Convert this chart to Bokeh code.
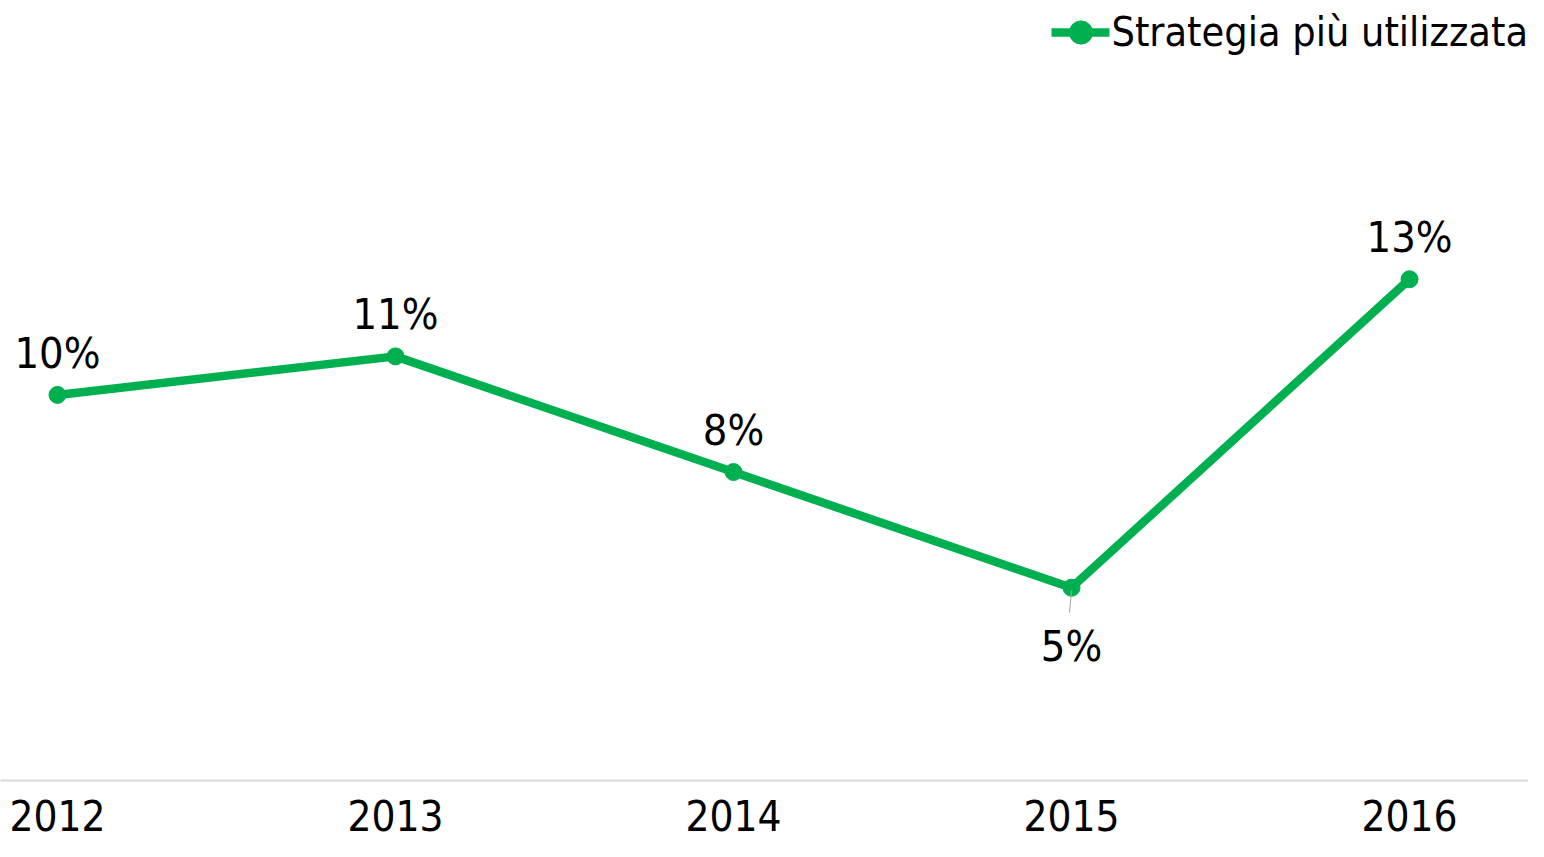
from bokeh.plotting import figure
from bokeh.models import ColumnDataSource, LabelSet, FixedTicker, Legend, LegendItem
from bokeh.core.properties import value
from bokeh.embed import file_html
from bokeh.resources import INLINE

years = [2012, 2013, 2014, 2015, 2016]
values = [10, 11, 8, 5, 13]
labels = ["10%", "11%", "8%", "5%", "13%"]
series_name = "Strategia più utilizzata"

FONT = "DejaVu Sans Condensed"
GREEN = "#00B050"

offsets = [-58 if v == min(values) else 42 for v in values]
src = ColumnDataSource(dict(x=years, y=values, lab=labels, off=offsets))

p = figure(frame_width=1528, frame_height=780, output_backend="svg", toolbar_location=None,
           x_range=(2011.8314, 2016.352), y_range=(0, 20.23),
           min_border=0, min_border_bottom=61, outline_line_color=None)
p.grid.visible = False
p.yaxis.visible = False

ax = p.xaxis[0]
ax.ticker = FixedTicker(ticks=years)
ax.major_label_overrides = {y: str(y) for y in years}
ax.axis_line_color = "#D9D9D9"
ax.axis_line_width = 2
ax.major_tick_line_color = None
ax.minor_tick_line_color = None
ax.major_tick_out = 0
ax.major_tick_in = 0
ax.major_label_standoff = 19
ax.major_label_text_font = FONT
ax.major_label_text_font_size = "42px"
ax.major_label_text_color = "#000000"

ln = p.line("x", "y", source=src, line_color=GREEN, line_width=8.5, line_join="round", line_cap="round")
sc = p.scatter("x", "y", source=src, size=17, fill_color=GREEN, line_color=GREEN)

# leader line for label placed below the minimum point
imin = values.index(min(values))
pxu = 780 / 20.23
p.segment(x0=[years[imin]], y0=[values[imin] - 3 / pxu], x1=[years[imin] - 0.006],
          y1=[values[imin] - 25 / pxu], line_color="#A6A6A6", line_width=1)

lbl = LabelSet(x="x", y="y", text="lab", source=src, y_offset="off",
               text_align="center", text_baseline="middle",
               text_font=value(FONT), text_font_size=value("43px"), text_color="#000000")
p.add_layout(lbl)

legend = Legend(items=[LegendItem(label=series_name, renderers=[ln, sc])],
                location="top_right", orientation="horizontal",
                border_line_color=None, background_fill_alpha=0,
                label_text_font=FONT, label_text_font_size="41px", label_text_color="#000000",
                glyph_width=58, glyph_height=64, label_standoff=2,
                padding=0, margin=0, spacing=0)
p.add_layout(legend)

open("out.html", "w").write(file_html(p, INLINE))
